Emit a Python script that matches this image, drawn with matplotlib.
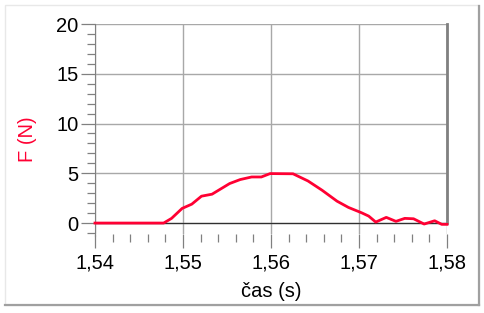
import matplotlib
matplotlib.use("Agg")
import matplotlib.pyplot as plt
import matplotlib.ticker as ticker
from matplotlib.patches import Rectangle

# force sensor trace
time_s = [1.5400, 1.5478, 1.5487, 1.5499, 1.5510, 1.5521, 1.5533, 1.5553, 1.5565,
          1.5578, 1.5589, 1.5599, 1.5625, 1.5642, 1.5658, 1.5675, 1.5688, 1.5703,
          1.5711, 1.5719, 1.5731, 1.5742, 1.5752, 1.5762, 1.5774, 1.5786, 1.5794,
          1.5800]
force_n = [0.0, 0.0, 0.47, 1.47, 1.9, 2.7, 2.9, 3.97, 4.37,
           4.63, 4.63, 4.97, 4.95, 4.23, 3.3, 2.2, 1.57, 1.03,
           0.7, 0.1, 0.57, 0.17, 0.47, 0.43, -0.1, 0.23, -0.13,
           -0.13]

x_ticks = [1.54, 1.55, 1.56, 1.57, 1.58]
y_ticks = [0, 5, 10, 15, 20]

plt.rcParams["font.family"] = ["Liberation Sans", "DejaVu Sans"]
FS = 14.5

W, H = 484, 313
fig = plt.figure(figsize=(W / 100, H / 100), dpi=100)
fig.patch.set_facecolor("white")

# outer frame with a little shadow on the right and bottom
fig.patches.append(Rectangle((5 / W, 1 - 305 / H), 474 / W, 300 / H, transform=fig.transFigure,
                             fill=False, edgecolor="#e8e8e8", linewidth=1.0))
fig.add_artist(plt.Line2D([479 / W, 479 / W], [1 - 305 / H, 1 - 6 / H], transform=fig.transFigure,
                          color="#a0a0a0", linewidth=1.6))
fig.add_artist(plt.Line2D([5 / W, 479 / W], [1 - 305 / H, 1 - 305 / H], transform=fig.transFigure,
                          color="#a0a0a0", linewidth=1.6))

left, right, top, bottom = 95, 447, 24, 234
ax = fig.add_axes([left / W, 1 - bottom / H, (right - left) / W, (bottom - top) / H])
ax.set_xlim(1.54, 1.58)
ax.set_ylim(-1.1, 20)

ax.xaxis.set_major_locator(ticker.FixedLocator(x_ticks))
ax.xaxis.set_minor_locator(ticker.MultipleLocator(0.002))
ax.yaxis.set_major_locator(ticker.FixedLocator(y_ticks))
ax.yaxis.set_minor_locator(ticker.MultipleLocator(1))
ax.xaxis.set_major_formatter(ticker.FuncFormatter(lambda v, p: f"{v:.2f}".replace(".", ",")))
ax.yaxis.set_major_formatter(ticker.FuncFormatter(lambda v, p: f"{v:.0f}"))

ax.grid(which="major", color="#a8a8a8", linewidth=1.0)
ax.axhline(0, color="#303030", linewidth=0.9, zorder=2)

for name in ("top", "bottom"):
    ax.spines[name].set_visible(False)
ax.spines["left"].set_color("#808080")
ax.spines["left"].set_bounds(-1.3, 20)
ax.spines["right"].set_color("#808080")
ax.spines["right"].set_linewidth(2.0)
ax.spines["right"].set_bounds(0, 20)

ax.tick_params(axis="both", which="major", direction="out", length=10, width=0.9,
               color="#808080", labelsize=FS, labelcolor="black")
ax.tick_params(axis="both", which="minor", direction="out", length=6, width=0.9, color="#808080")
ax.tick_params(axis="x", which="major", pad=4)
ax.tick_params(axis="y", which="major", pad=2)

ax.plot(time_s, force_n, color="#ff0033", linewidth=2.0, zorder=3, clip_on=False)

ax.set_xlabel("čas (s)", fontsize=FS)
ax.xaxis.set_label_coords(0.5, -0.23)
ax.set_ylabel("F (N)", fontsize=FS, color="#ff0033")
ax.yaxis.set_label_coords(-0.165, 0.45)

fig.savefig("out.png", dpi=100, facecolor="white")
